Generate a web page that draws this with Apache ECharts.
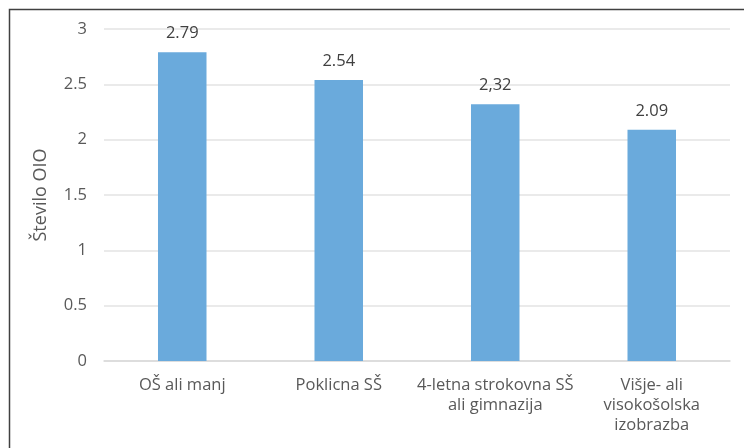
<!DOCTYPE html>
<html>
<head>
<meta charset="utf-8">
<script src="https://cdn.jsdelivr.net/npm/echarts@6/dist/echarts.min.js"></script>
<style>
  html, body { margin: 0; padding: 0; background: #ffffff; }
  #chart { width: 744px; height: 448px; }
</style>
</head>
<body>
<div id="chart"></div>
<script>
// Education level categories
const categories = [
  'OŠ ali manj',
  'Poklicna SŠ',
  '4-letna strokovna SŠ\nali gimnazija',
  'Višje- ali\nvisokošolska\nizobrazba'
];
// Average count per category
const values = [2.79, 2.54, 2.32, 2.09];
// Value labels printed above the bars
const valueLabels = ['2.79', '2.54', '2,32', '2.09'];
// Y axis ticks
const yTicks = [0, 0.5, 1, 1.5, 2, 2.5, 3];

const FONT = '"Open Sans", Lato, sans-serif';
const chart = echarts.init(document.getElementById('chart'), null, { renderer: 'canvas' });

chart.setOption({
  animation: false,
  backgroundColor: '#ffffff',
  graphic: [{
    type: 'rect',
    left: 7, top: 7,
    shape: { width: 800, height: 500 },
    style: { fill: 'none', stroke: '#404040', lineWidth: 1.5 },
    silent: true
  }],
  grid: { left: 104, right: 14, top: 29, bottom: 87 },
  xAxis: {
    type: 'category',
    data: categories,
    axisLine: { show: true, lineStyle: { color: '#d9d9d9', width: 1.5 } },
    axisTick: { show: false },
    axisLabel: {
      color: '#595959',
      fontFamily: FONT,
      fontSize: 16.5,
      lineHeight: 20,
      margin: 14,
      interval: 0
    }
  },
  yAxis: {
    type: 'value',
    min: yTicks[0],
    max: yTicks[yTicks.length - 1],
    interval: 0.5,
    name: 'Število OIO',
    nameLocation: 'middle',
    nameGap: 54,
    nameRotate: 90,
    nameTextStyle: { color: '#595959', fontFamily: FONT, fontSize: 18 },
    axisLine: { show: false },
    axisTick: { show: false },
    splitLine: { show: true, lineStyle: { color: '#e3e3e3', width: 1.5 } },
    axisLabel: {
      color: '#595959',
      fontFamily: FONT,
      fontSize: 16.5,
      margin: 17,
      formatter: v => String(v)
    }
  },
  series: [{
    type: 'bar',
    data: values,
    barWidth: '31%',
    itemStyle: { color: '#6aaadc' },
    label: {
      show: true,
      position: 'top',
      distance: 10,
      color: '#404040',
      fontFamily: FONT,
      fontSize: 16.5,
      formatter: p => valueLabels[p.dataIndex]
    }
  }]
});
</script>
</body>
</html>
